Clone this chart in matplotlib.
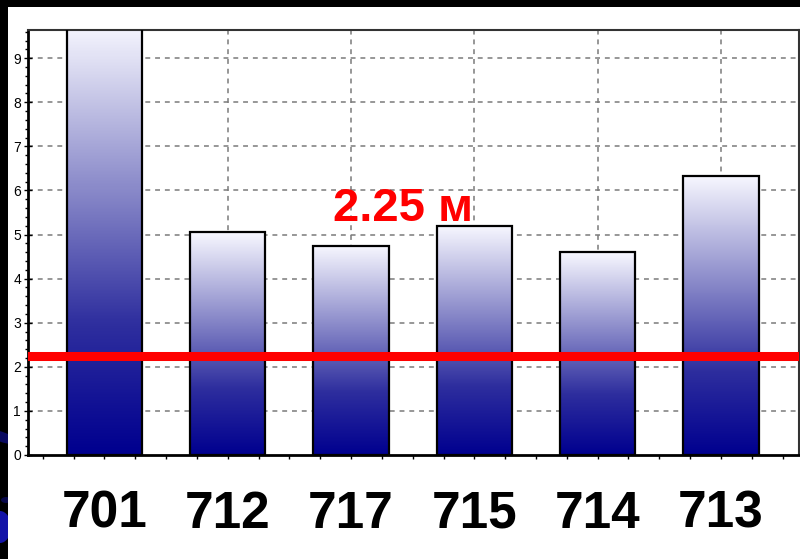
import numpy as np
import matplotlib
matplotlib.use("Agg")
import matplotlib.pyplot as plt
from matplotlib.patches import Rectangle, Ellipse
from matplotlib.colors import LinearSegmentedColormap, Normalize
from matplotlib.ticker import MultipleLocator
from matplotlib import font_manager

# Rooms along the x axis and measured depth of each one
rooms = ["701", "712", "717", "715", "714", "713"]
depths = [9.8, 5.05, 4.75, 5.2, 4.6, 6.33]

# Reference level shown as a red line
threshold = 2.25
threshold_label = "2.25 м"

y_ticks = list(range(10))


def pick_family():
    # prefer a narrow face, fall back to Liberation Sans
    for fam in ("Liberation Sans Narrow", "Arial Narrow"):
        path = font_manager.findfont(font_manager.FontProperties(family=fam),
                                     fallback_to_default=False)
        if path and "narrow" in path.lower():
            return [fam, "DejaVu Sans"]
    return ["Liberation Sans", "DejaVu Sans"]


try:
    FAMILY = pick_family()
except Exception:
    FAMILY = ["Liberation Sans", "DejaVu Sans"]

W, H = 800, 559
fig = plt.figure(figsize=(W / 100, H / 100), dpi=100, facecolor="black")

# white slide panel, leaving a dark frame on top and left
fig.add_artist(Rectangle((8 / W, 0), 1 - 8 / W, 1 - 7 / H, transform=fig.transFigure,
                         facecolor="white", edgecolor="none", zorder=0))

# dark blue streaks in the left frame strip
strip = fig.add_axes([0, 0, 8 / W, 1 - 7 / H])
strip.set_xlim(0, 8)
strip.set_ylim(559, 7)
strip.set_facecolor("black")
strip.axis("off")
strip.add_patch(Ellipse((2, 437), 30, 10, angle=20, facecolor="#0a0a60", edgecolor="none"))
strip.add_patch(Ellipse((0, 527), 22, 32, facecolor="#1414a8", edgecolor="none"))
strip.add_patch(Ellipse((6, 500), 10, 6, facecolor="#08084a", edgecolor="none"))

ax = fig.add_axes([28 / W, 104 / H, 771 / W, 425 / H])
ax.set_facecolor("white")

bw = 0.61
x = np.arange(len(rooms))
y_top = 9.64

# horizontal and vertical dashed grid behind the bars
for y in y_ticks[1:]:
    ax.axhline(y, color="#7a7a7a", lw=1.1, ls=(0, (3.2, 3.2)), zorder=1)
for xi in x:
    ax.axvline(xi, color="#7a7a7a", lw=1.1, ls=(0, (3.2, 3.2)), zorder=1)

bars = ax.bar(x, depths, width=bw, facecolor="none", edgecolor="black",
              linewidth=1.6, zorder=3)

cmap = LinearSegmentedColormap.from_list(
    "depth", [(0.0, (0.0, 0.0, 0.56)), (0.3, (0.18, 0.18, 0.62)),
              (0.6, (0.52, 0.52, 0.78)), (1.0, (0.97, 0.97, 1.0))])

# vertical gradient inside each bar, dark at the floor, pale at the top
for b in bars:
    x0 = b.get_x()
    h = b.get_height()
    top = min(h, y_top)
    frac = np.linspace(0, top / h, 256).reshape(-1, 1)
    ax.imshow(frac, cmap=cmap, norm=Normalize(0, 1),
              extent=(x0, x0 + b.get_width(), 0, top),
              origin="lower", aspect="auto", interpolation="bilinear", zorder=2)

ax.axhline(threshold, color="#ff0000", lw=6.5, zorder=4)
ax.text(2.42, 5.31, threshold_label, color="#ff0000", fontsize=34,
        fontweight="bold", ha="center", va="baseline", family=FAMILY, zorder=5)

ax.set_xlim(-0.62, 5.633)
ax.set_ylim(0, y_top)

ax.set_xticks(x)
ax.set_xticklabels(rooms, fontsize=37, fontweight="bold", family=FAMILY)
ax.xaxis.set_minor_locator(MultipleLocator(0.25))
ax.tick_params(axis="x", which="both", direction="out", length=3, width=1,
               pad=22, colors="black")

ax.set_yticks(y_ticks)
ax.set_yticklabels([str(v) for v in y_ticks], fontsize=10, family=FAMILY)
ax.yaxis.set_minor_locator(MultipleLocator(0.2))
ax.tick_params(axis="y", which="major", direction="inout", length=6, width=1, pad=2)
ax.tick_params(axis="y", which="minor", direction="out", length=2.5, width=1)

for side in ("left", "bottom"):
    ax.spines[side].set_linewidth(2)
    ax.spines[side].set_color("black")
for side in ("top", "right"):
    ax.spines[side].set_linewidth(1.5)
    ax.spines[side].set_color("#333333")

fig.savefig("out.png", dpi=100, facecolor=fig.get_facecolor())
